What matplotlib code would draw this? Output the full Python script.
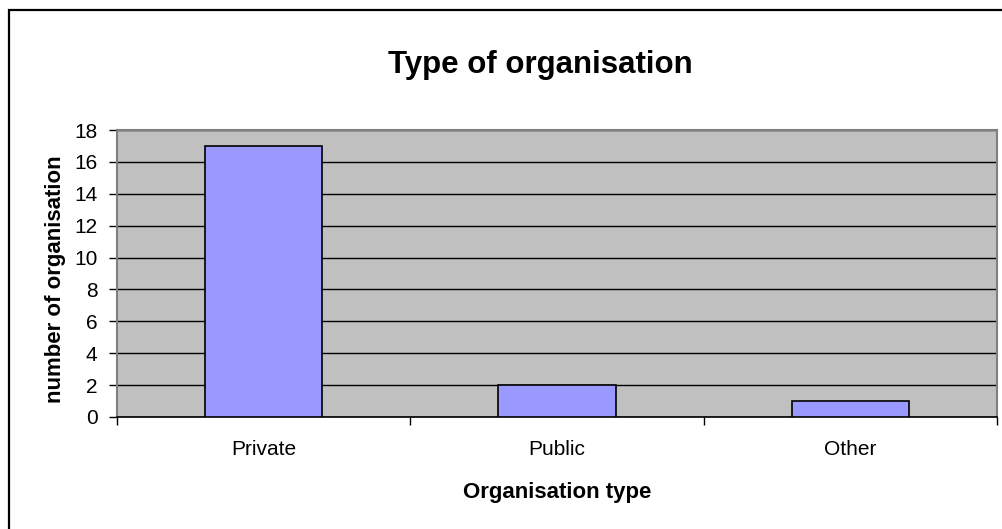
import matplotlib
matplotlib.use("Agg")
import matplotlib.pyplot as plt
from matplotlib.patches import Rectangle

categories = ["Private", "Public", "Other"]
counts = [17, 2, 1]
y_ticks = [0, 2, 4, 6, 8, 10, 12, 14, 16, 18]

plt.rcParams["font.family"] = ["Liberation Sans", "DejaVu Sans"]

W, H = 1002, 529
fig = plt.figure(figsize=(W / 100, H / 100), dpi=100)

# Outer chart frame
fig.patches.append(Rectangle((9 / W, -0.1), 1.2, 1 - 10 / H + 0.1,
                             transform=fig.transFigure, fill=False,
                             edgecolor="black", linewidth=1.6))

ax = fig.add_axes([117 / W, 112 / H, 880 / W, 287 / H])
ax.set_facecolor("#C0C0C0")

x = list(range(len(categories)))
ax.bar(x, counts, width=0.4, color="#9999FF", edgecolor="black",
       linewidth=1.2, zorder=3)

ax.set_xlim(-0.5, len(categories) - 0.5)
ax.set_ylim(0, 18)
ax.set_yticks(y_ticks)
ax.set_yticklabels([str(v) for v in y_ticks])
ax.yaxis.grid(True, color="black", linewidth=1.0, zorder=1)
ax.set_axisbelow(True)

# Category boundary ticks, labels centred under bars
ax.set_xticks([i - 0.5 for i in range(len(categories) + 1)])
ax.set_xticklabels([""] * (len(categories) + 1))
ax.set_xticks(x, minor=True)
ax.set_xticklabels(categories, minor=True)
ax.tick_params(axis="x", which="major", length=6, width=1, color="black")
ax.tick_params(axis="x", which="minor", length=0, pad=16.5, labelsize=15)
ax.tick_params(axis="y", length=6, width=1, color="black", pad=8,
               labelsize=15)

for side in ("top", "right"):
    ax.spines[side].set_color("#808080")
    ax.spines[side].set_linewidth(1.5)
ax.spines["bottom"].set_color("black")
ax.spines["bottom"].set_linewidth(1.2)
ax.spines["left"].set_color("#808080")
ax.spines["left"].set_linewidth(1.5)

fig.text(540 / W, 1 - 73.3 / H, "Type of organisation", ha="center",
         va="baseline", fontsize=22.5, fontweight="bold")
fig.text(557 / W, 1 - 498 / H, "Organisation type", ha="center",
         va="baseline", fontsize=16, fontweight="bold")
fig.text(55 / W, 1 - 279 / H, "number of organisation", ha="center",
         va="center", rotation=90, fontsize=16, fontweight="bold")

fig.savefig("out.png", dpi=100)
